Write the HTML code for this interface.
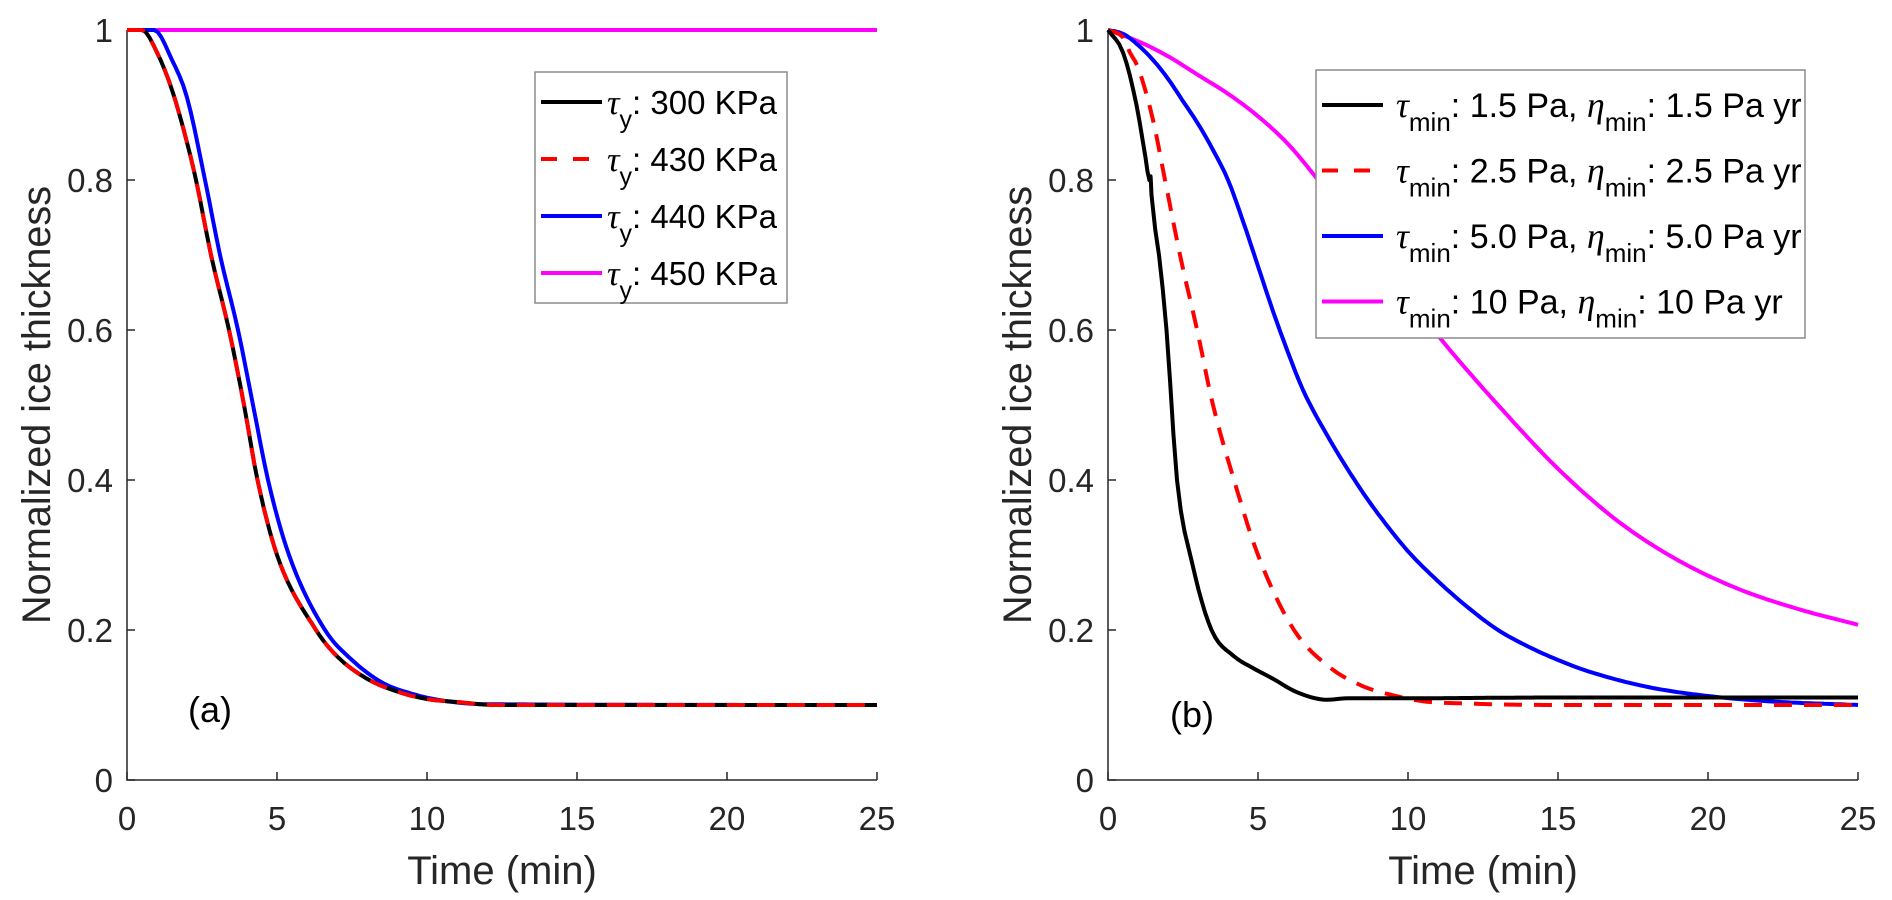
<!DOCTYPE html>
<html><head><meta charset="utf-8">
<style>
html,body{margin:0;padding:0;background:#fff;}
svg{display:block;font-family:"Liberation Sans",Arial,sans-serif;}
</style></head>
<body>
<svg id="chart" width="1892" height="900" viewBox="0 0 1892 900" xmlns="http://www.w3.org/2000/svg"></svg>
<script>
// ---- data panel (a) ----
const aBlackT=[0,0.5,1,1.5,2,2.3,2.8,3.4,3.9,4.35,5,6.3,7,8,9,10,11,12.3,25];
const aBlackY=[1,1,0.97,0.92,0.85,0.8,0.7,0.6,0.5,0.4,0.3,0.2,0.165,0.135,0.118,0.108,0.104,0.1,0.1];
const aRedT=[0,0.5,1,1.5,2,2.3,2.8,3.4,3.9,4.35,5,6.3,7,8,9,10,11,12.3,25];
const aRedY=[1,1,0.97,0.92,0.85,0.8,0.7,0.6,0.5,0.4,0.3,0.2,0.165,0.135,0.118,0.108,0.104,0.1,0.1];
const aBlueT=[0,0.9,1.5,2,2.6,3.1,3.7,4.2,4.7,5.4,6.6,7.5,8.5,9.5,10.5,12,25];
const aBlueY=[1,1,0.96,0.91,0.8,0.7,0.6,0.5,0.4,0.3,0.2,0.16,0.13,0.115,0.106,0.101,0.1];
const aMagT=[0,25];
const aMagY=[1,1];
// ---- data panel (b) ----
const bBlackT=[0,0.5,0.95,1.25,1.38,1.42,1.45,1.7,1.95,2.3,2.8,3.45,4.2,4.8,5.5,6.3,7.3,8,10,15,20,25];
const bBlackY=[1,0.97,0.9,0.83,0.8,0.805,0.78,0.7,0.6,0.4,0.29,0.2,0.165,0.15,0.135,0.117,0.107,0.109,0.109,0.11,0.11,0.11];
const bRedT=[0,0.5,0.73,1,1.5,1.9,2.4,2.97,3.5,4.2,5,6.2,7.4,8.5,9.5,10.5,12,15,20,25];
const bRedY=[1,0.99,0.97,0.95,0.88,0.8,0.7,0.6,0.5,0.4,0.3,0.2,0.15,0.125,0.113,0.105,0.102,0.1,0.1,0.1];
const bBlueT=[0,0.5,1,1.5,2,2.5,3,3.5,4,4.5,5,5.5,6,6.5,7.3,8.3,9,10,11,12,13,14,15,16,18,20,22,25];
const bBlueY=[1,0.995,0.98,0.96,0.935,0.905,0.875,0.84,0.8,0.745,0.685,0.625,0.57,0.52,0.46,0.395,0.355,0.305,0.265,0.23,0.2,0.178,0.16,0.145,0.124,0.112,0.105,0.1];
const bMagT=[0,1,2,3,4,5,6,7,8,9,10,11.3,13,15,17,19,21,23,25];
const bMagY=[1,0.985,0.965,0.94,0.915,0.885,0.848,0.8,0.748,0.695,0.643,0.578,0.5,0.415,0.345,0.293,0.255,0.228,0.207];
const xTicks=[0,5,10,15,20,25];
const yTicks=[0,0.2,0.4,0.6,0.8,1];
const yTickLabels=["0","0.2","0.4","0.6","0.8","1"];
const aLegend=["300 KPa","430 KPa","440 KPa","450 KPa"];
const bLegendTau=["1.5 Pa","2.5 Pa","5.0 Pa","10 Pa"];
const bLegendEta=["1.5 Pa yr","2.5 Pa yr","5.0 Pa yr","10 Pa yr"];

const NS="http://www.w3.org/2000/svg";
const svg=document.getElementById('chart');
function mk(tag,attrs,parent){const e=document.createElementNS(NS,tag);for(const k in attrs)e.setAttribute(k,attrs[k]);(parent||svg).appendChild(e);return e;}
const Y0=780,Y1=30;
function sy(v){return Y0-(Y0-Y1)*v;}
function makeSx(x0){return t=>x0+t*30;}

function smooth(xs,ys){
  const n=xs.length; if(n<3)return xs.map((x,i)=>[x,ys[i]]);
  const d=[],m=new Array(n);
  for(let i=0;i<n-1;i++)d.push((ys[i+1]-ys[i])/(xs[i+1]-xs[i]));
  m[0]=d[0];m[n-1]=d[n-2];
  for(let i=1;i<n-1;i++){m[i]=(d[i-1]*d[i]<=0)?0:(d[i-1]+d[i])/2;}
  for(let i=0;i<n-1;i++){
    if(d[i]===0){m[i]=0;m[i+1]=0;continue;}
    const a=m[i]/d[i],b=m[i+1]/d[i],s=a*a+b*b;
    if(s>9){const t=3/Math.sqrt(s);m[i]=t*a*d[i];m[i+1]=t*b*d[i];}
  }
  const out=[];
  for(let i=0;i<n-1;i++){
    const h=xs[i+1]-xs[i];const steps=Math.max(2,Math.ceil(h*8));
    for(let k=0;k<steps;k++){
      const t=k/steps,t2=t*t,t3=t2*t;
      const y=(2*t3-3*t2+1)*ys[i]+(t3-2*t2+t)*h*m[i]+(-2*t3+3*t2)*ys[i+1]+(t3-t2)*h*m[i+1];
      out.push([xs[i]+t*h,y]);
    }
  }
  out.push([xs[n-1],ys[n-1]]);
  return out;
}

function drawPanel(x0,id,series,letter,letterX,letterY){
  const sx=makeSx(x0);
  const g=mk('g',{});
  
  
  const ax=mk('path',{d:`M${x0} ${Y1} L${x0} ${Y0} L${sx(25)} ${Y0}`,fill:'none',stroke:'#262626','stroke-width':1.5},g);
  
  
  xTicks.forEach(t=>{
    const l=mk('line',{x1:sx(t),x2:sx(t),y1:Y0,y2:Y0-8,stroke:'#262626','stroke-width':1.5},g);
    
    
    const tx=mk('text',{x:sx(t),y:830,'font-size':33,'text-anchor':'middle',fill:'#262626'},g);
    tx.textContent=t;
    
    
  });
  yTicks.forEach((v,i)=>{
    const l=mk('line',{x1:x0,x2:x0+8,y1:sy(v),y2:sy(v),stroke:'#262626','stroke-width':1.5},g);
    
    
    const tx=mk('text',{x:x0-14,y:sy(v)+12,'font-size':33,'text-anchor':'end',fill:'#262626'},g);
    tx.textContent=yTickLabels[i];
    
    
  });
  const xl=mk('text',{x:sx(12.5),y:884,'font-size':40,'text-anchor':'middle',fill:'#262626'},g);
  xl.textContent='Time (min)';
  
  
  const ylx=x0-77, yly=(Y0+Y1)/2;
  const yl=mk('text',{x:ylx,y:yly,'font-size':40,'text-anchor':'middle',fill:'#262626',transform:`rotate(-90 ${ylx} ${yly})`,textLength:438,lengthAdjust:'spacingAndGlyphs'},g);
  yl.textContent='Normalized ice thickness';
  
  
  series.forEach(s=>{
    const pts=smooth(s.t,s.y);
    let d='';
    pts.forEach((p,i)=>{d+=(i?'L':'M')+sx(p[0]).toFixed(1)+' '+sy(p[1]).toFixed(1)+' ';});
    const p=mk('path',{d:d,fill:'none',stroke:s.c,'stroke-width':4,'stroke-linejoin':'round'},g);
    if(s.dash)p.setAttribute('stroke-dasharray','18 12');
    
    
  });
  const lt=mk('text',{x:letterX,y:letterY,'font-size':36,fill:'#000'},g);
  lt.textContent=letter;
  
  
}

drawPanel(127,'a',[
 {t:aMagT,y:aMagY,c:'#ff00ff',name:'line-450kpa'},
 {t:aBlueT,y:aBlueY,c:'#0000ff',name:'line-440kpa'},
 {t:aBlackT,y:aBlackY,c:'#000',name:'line-300kpa'},
 {t:aRedT,y:aRedY,c:'#ff0000',dash:true,name:'line-430kpa'}
],'(a)',188,722);
drawPanel(1108,'b',[
 {t:bMagT,y:bMagY,c:'#ff00ff',name:'line-10pa'},
 {t:bBlueT,y:bBlueY,c:'#0000ff',name:'line-5pa'},
 {t:bRedT,y:bRedY,c:'#ff0000',dash:true,name:'line-2-5pa'},
 {t:bBlackT,y:bBlackY,c:'#000',name:'line-1-5pa'}
],'(b)',1170,727);

const cols=['#000','#ff0000','#0000ff','#ff00ff'];
const la=mk('g',{});


mk('rect',{x:535,y:72,width:252,height:231,fill:'#fff',stroke:'#8c8c8c','stroke-width':1.5},la);
aLegend.forEach((s,i)=>{
  const cy=102+i*57;
  const l=mk('line',{x1:541,x2:602,y1:cy,y2:cy,stroke:cols[i],'stroke-width':4},la);
  if(i==1)l.setAttribute('stroke-dasharray','16 16');
  
  
  const tx=mk('text',{x:607,y:cy+12,'font-size':33,fill:'#000'},la);
  tx.innerHTML='<tspan font-style="italic" font-family="Liberation Serif" font-size="35">τ</tspan><tspan font-size="25" dy="14">y</tspan><tspan dy="-14">: '+s+'</tspan>';
  
  
});
const lb=mk('g',{});


mk('rect',{x:1316,y:70,width:489,height:268,fill:'#fff',stroke:'#8c8c8c','stroke-width':1.5},lb);
bLegendTau.forEach((s,i)=>{
  const cy=105+i*65.5;
  const l=mk('line',{x1:1322,x2:1383,y1:cy,y2:cy,stroke:cols[i],'stroke-width':4},lb);
  if(i==1)l.setAttribute('stroke-dasharray','16 16');
  
  
  const tx=mk('text',{x:1396,y:cy+12,'font-size':34,fill:'#000'},lb);
  tx.innerHTML='<tspan font-style="italic" font-family="Liberation Serif" font-size="36">τ</tspan><tspan font-size="26" dy="14">min</tspan><tspan dy="-14">: '+s+', </tspan><tspan font-style="italic" font-family="Liberation Serif" font-size="36">η</tspan><tspan font-size="26" dy="14">min</tspan><tspan dy="-14">: '+bLegendEta[i]+'</tspan>';
  
  
});
</script>
</body></html>
